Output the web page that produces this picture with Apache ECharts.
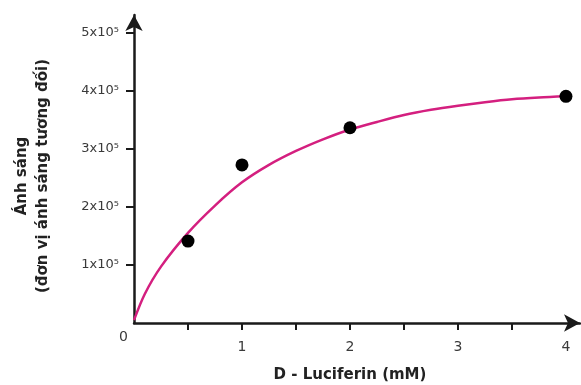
<!DOCTYPE html>
<html>
<head>
<meta charset="utf-8">
<script src="https://cdn.jsdelivr.net/npm/echarts@6/dist/echarts.min.js"></script>
<style>
  html, body { margin: 0; padding: 0; background: #fff; }
  #main { width: 581px; height: 385px; }
</style>
</head>
<body>
<div id="main"></div>
<script>
// measured points (light, x10^5)
var pointX = [0.5, 1, 2, 4];
var pointY = [1.41, 2.72, 3.36, 3.9];

// fitted curve
var curveX = [0, 0.1, 0.25, 0.5, 0.75, 1, 1.25, 1.5, 1.75, 2, 2.25, 2.5, 2.75, 3, 3.25, 3.5, 3.75, 4];
var curveY = [0.05, 0.5, 0.97, 1.55, 2.02, 2.42, 2.72, 2.96, 3.16, 3.33, 3.46, 3.58, 3.67, 3.74, 3.8, 3.85, 3.88, 3.9];

var xTicks = [0.5, 1, 1.5, 2, 2.5, 3, 3.5];
var xLabels = [1, 2, 3, 4];
var yTicks = [1, 2, 3, 4, 5];

var chart = echarts.init(document.getElementById("main"));

var axisColor = "#1a1a1a";
var textColor = "#3a3a3a";
var font = "DejaVu Sans";

var option = {
  animation: false,
  grid: { left: 134, right: 1, top: 15, bottom: 62, outerBoundsMode: "none", containLabel: false },
  xAxis: {
    type: "value",
    min: 0,
    max: 4.13,
    name: "D - Luciferin (mM)",
    nameLocation: "middle",
    nameGap: 45,
    nameTextStyle: { fontFamily: font, fontWeight: "bold", fontSize: 15, color: "#222", padding: [0, 14, 0, 0] },
    splitLine: { show: false },
    axisLine: {
      lineStyle: { color: axisColor, width: 2.5 },
      symbol: ["none", "arrow"],
      symbolSize: [13, 16]
    },
    axisTick: { customValues: xTicks, length: 7, lineStyle: { color: axisColor, width: 2 } },
    axisLabel: {
      customValues: xLabels,
      margin: 17,
      fontFamily: font,
      fontSize: 14,
      color: textColor
    }
  },
  yAxis: {
    type: "value",
    min: 0,
    max: 5.3,
    name: "Ánh sáng\n(đơn vị ánh sáng tương đối)",
    nameLocation: "middle",
    nameRotate: 90,
    nameGap: 80,
    nameTextStyle: {
      fontFamily: font, fontWeight: "bold", fontSize: 15, color: "#222",
      lineHeight: 21, padding: [0, 14, 0, 0]
    },
    splitLine: { show: false },
    axisLine: {
      show: true,
      lineStyle: { color: axisColor, width: 2.5 },
      symbol: ["none", "arrow"],
      symbolSize: [13, 16]
    },
    axisTick: { show: true, customValues: yTicks, length: 8, lineStyle: { color: axisColor, width: 2 } },
    axisLabel: {
      customValues: yTicks,
      margin: 15,
      fontFamily: font,
      fontSize: 13,
      color: textColor,
      formatter: function (v) { return v + "x10\u2075"; }
    }
  },
  graphic: [
    {
      type: "text",
      left: 119,
      top: 330,
      style: { text: "0", font: "14px 'DejaVu Sans'", fill: textColor }
    }
  ],
  series: [
    {
      type: "line",
      data: curveX.map(function (x, i) { return [x, curveY[i]]; }),
      smooth: 0.3,
      showSymbol: false,
      lineStyle: { color: "#d41f7f", width: 2.5 },
      z: 2
    },
    {
      type: "scatter",
      data: pointX.map(function (x, i) { return [x, pointY[i]]; }),
      symbolSize: 13,
      itemStyle: { color: "#000", opacity: 1 },
      z: 3
    }
  ]
};

option && chart.setOption(option);
</script>
</body>
</html>
